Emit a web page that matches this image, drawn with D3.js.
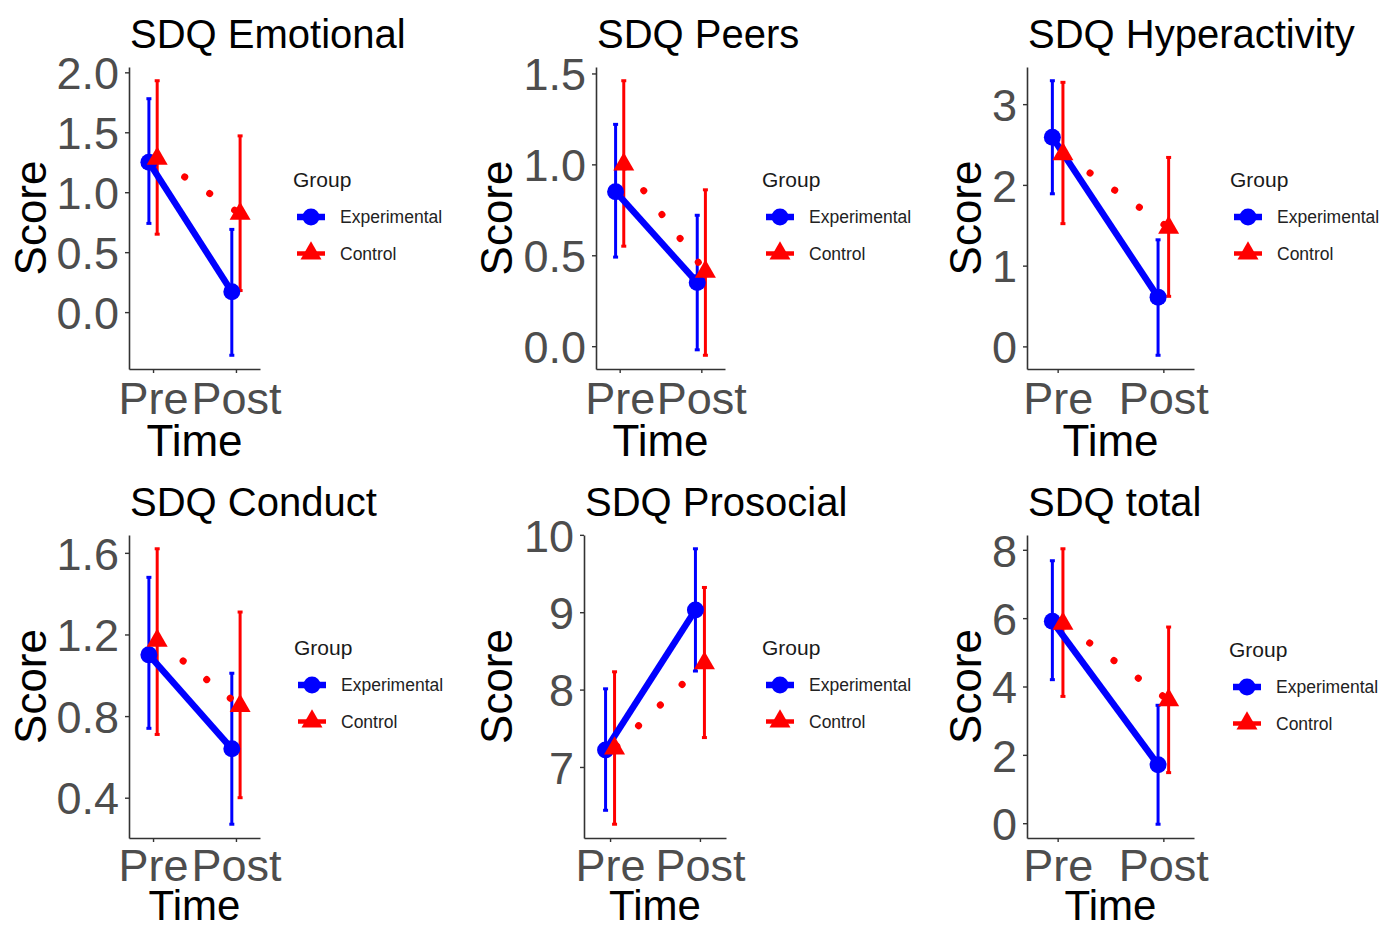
<!DOCTYPE html>
<html>
<head>
<meta charset="utf-8">
<script src="https://cdn.jsdelivr.net/npm/d3@7/dist/d3.min.js"></script>
<style>
  body { margin: 0; background: #fff; }
  text { font-family: "Liberation Sans", Arial, sans-serif; }
</style>
</head>
<body>
<div id="chart"></div>
<script>
(() => {

// DATA
const panelTitles = ["SDQ Emotional", "SDQ Peers", "SDQ Hyperactivity", "SDQ Conduct", "SDQ Prosocial", "SDQ total"];
const timeLabels = ["Pre", "Post"];
const groupNames = ["Experimental", "Control"];

// [Pre, Post] for each panel
const expMean  = [[1.25, 0.17], [0.85, 0.35], [2.59, 0.61], [1.10, 0.64], [7.22, 9.03], [5.91, 1.71]];
const expLow   = [[0.74, -0.36], [0.49, -0.02], [1.89, -0.11], [0.74, 0.27], [6.44, 8.24], [4.20, -0.03]];
const expHigh  = [[1.78, 0.69], [1.22, 0.72], [3.29, 1.32], [1.48, 1.01], [8.01, 9.82], [7.68, 3.45]];
const ctrlMean = [[1.28, 0.82], [1.00, 0.41], [2.38, 1.47], [1.17, 0.85], [7.24, 8.34], [5.84, 3.60]];
const ctrlLow  = [[0.65, 0.18], [0.55, -0.05], [1.52, 0.62], [0.71, 0.40], [6.26, 7.38], [3.71, 1.48]];
const ctrlHigh = [[1.93, 1.47], [1.46, 0.86], [3.27, 2.34], [1.62, 1.31], [8.23, 9.32], [8.03, 5.74]];

const yTicks = [[0, 0.5, 1, 1.5, 2], [0, 0.5, 1, 1.5], [0, 1, 2, 3], [0.4, 0.8, 1.2, 1.6], [7, 8, 9, 10], [0, 2, 4, 6, 8]];
const yFormats = [".1f", ".1f", "d", ".1f", "d", "d"];

// LAYOUT
const W = 1383, H = 928;
const plotLeft  = [129, 596, 1027, 129, 584, 1027];
const plotRight = [260, 725, 1194, 260, 726, 1194];
const scoreX    = [46, 512, 981, 46, 512, 981];
const legendX   = [293, 762, 1230, 294, 762, 1229];
const rowTop    = [67, 535];
const rowBottom = [369, 838];
const legendY   = [179, 647];
const tickTextY = [45, 43];
const timeY     = [456, 920];

const colors = ["#0000FF", "#FF0000"];

const svg = d3.select("#chart")
  .append("svg")
  .attr("width", W)
  .attr("height", H);

const tri = d3.symbol().type(d3.symbolTriangle).size(191);

panelTitles.forEach((title, i) => {
  const row = Math.floor(i / 3);
  const top = rowTop[row], bottom = rowBottom[row];
  const left = plotLeft[i], right = plotRight[i];

  const g = svg.append("g");

  // scales
  const x = d3.scalePoint().domain(timeLabels).range([left, right]).padding(0.29);
  const dodge = 0.05 * x.step();

  const allVals = expLow[i].concat(expHigh[i], ctrlLow[i], ctrlHigh[i]);
  const [lo, hi] = d3.extent(allVals);
  const pad = (hi - lo) * 0.05;
  const y = d3.scaleLinear().domain([lo - pad, hi + pad]).range([bottom, top]);

  // axes
  const yAxis = g.append("g")
    .attr("transform", `translate(${left},0)`)
    .call(d3.axisLeft(y).tickValues(yTicks[i]).tickFormat(d3.format(yFormats[i]))
      .tickSize(4).tickSizeOuter(0).tickPadding(6));
  yAxis.selectAll("text")
    .attr("dy", "0.36em")
    .style("font-size", "45px")
    .attr("fill", "#4D4D4D");

  const xAxis = g.append("g")
    .attr("transform", `translate(0,${bottom})`)
    .call(d3.axisBottom(x).tickSize(4).tickSizeOuter(0));
  xAxis.selectAll("text")
    .attr("dy", null)
    .attr("y", tickTextY[row])
    .style("font-size", "45px")
    .attr("fill", "#4D4D4D");

  [yAxis, xAxis].forEach(a => {
    a.select(".domain").attr("stroke", "#333").attr("stroke-width", 1.6);
    a.selectAll(".tick line").attr("stroke", "#333").attr("stroke-width", 1.4);
  });

  // series
  const series = [
    { mean: expMean[i], low: expLow[i], high: expHigh[i], off: -dodge, color: colors[0] },
    { mean: ctrlMean[i], low: ctrlLow[i], high: ctrlHigh[i], off: dodge, color: colors[1] }
  ];

  // error bars
  series.forEach(s => {
    timeLabels.forEach((t, k) => {
      const cx = x(t) + s.off;
      g.append("line")
        .attr("x1", cx).attr("x2", cx)
        .attr("y1", y(s.low[k])).attr("y2", y(s.high[k]))
        .attr("stroke", s.color).attr("stroke-width", 3);
      [s.low[k], s.high[k]].forEach(v => {
        g.append("line")
          .attr("x1", cx - 2.5).attr("x2", cx + 2.5)
          .attr("y1", y(v)).attr("y2", y(v))
          .attr("stroke", s.color).attr("stroke-width", 3);
      });
    });
  });

  // lines
  const line = d3.line()
    .x((d, k) => x(timeLabels[k]))
    .y(d => y(d));

  g.append("path")
    .attr("d", line(series[0].mean))
    .attr("transform", `translate(${series[0].off},0)`)
    .attr("fill", "none")
    .attr("stroke", colors[0])
    .attr("stroke-width", 6.5);

  g.append("path")
    .attr("d", line(series[1].mean))
    .attr("transform", `translate(${series[1].off},0)`)
    .attr("fill", "none")
    .attr("stroke", colors[1])
    .attr("stroke-width", 7)
    .attr("stroke-linecap", "round")
    .attr("stroke-dasharray", "0.1 29.9")
    .attr("stroke-dashoffset", 27);

  // points
  timeLabels.forEach((t, k) => {
    g.append("circle")
      .attr("cx", x(t) + series[0].off)
      .attr("cy", y(series[0].mean[k]))
      .attr("r", 8.5)
      .attr("fill", colors[0]);
  });
  timeLabels.forEach((t, k) => {
    g.append("path")
      .attr("d", tri())
      .attr("transform", `translate(${x(t) + series[1].off},${y(series[1].mean[k])})`)
      .attr("fill", colors[1]);
  });

  // titles
  g.append("text")
    .attr("x", left + 1)
    .attr("y", top - 19)
    .style("font-size", "40px")
    .attr("fill", "#000")
    .text(title);

  g.append("text")
    .attr("transform", `translate(${scoreX[i]},${(top + bottom) / 2}) rotate(-90)`)
    .attr("text-anchor", "middle")
    .style("font-size", "44px")
    .attr("fill", "#000")
    .text("Score");

  g.append("text")
    .attr("x", (left + right) / 2)
    .attr("y", timeY[row])
    .attr("text-anchor", "middle")
    .style("font-size", row === 0 ? "44px" : "42px")
    .attr("fill", "#000")
    .text("Time");

  // legend
  const lx = legendX[i], ly = legendY[row] + (i === 5 ? 2 : 0);
  const lg = g.append("g");
  lg.append("text")
    .attr("x", lx)
    .attr("y", ly)
    .attr("dy", "0.36em")
    .style("font-size", "21px")
    .attr("fill", "#1a1a1a")
    .text("Group");

  groupNames.forEach((name, k) => {
    const ky = ly + 38 + k * 36.5;
    const kx = lx + 18;
    lg.append("line")
      .attr("x1", kx - 14).attr("x2", kx + 14)
      .attr("y1", ky).attr("y2", ky)
      .attr("stroke", colors[k])
      .attr("stroke-width", k === 0 ? 6.5 : 4.5);
    if (k === 0) {
      lg.append("circle").attr("cx", kx).attr("cy", ky).attr("r", 8.5).attr("fill", colors[0]);
    } else {
      lg.append("path").attr("d", tri()).attr("transform", `translate(${kx},${ky})`).attr("fill", colors[1]);
    }
    lg.append("text")
      .attr("x", lx + 47)
      .attr("y", ky)
      .attr("dy", "0.36em")
      .style("font-size", "17.5px")
      .attr("fill", "#222")
      .text(name);
  });
});

})();
</script>
</body>
</html>
